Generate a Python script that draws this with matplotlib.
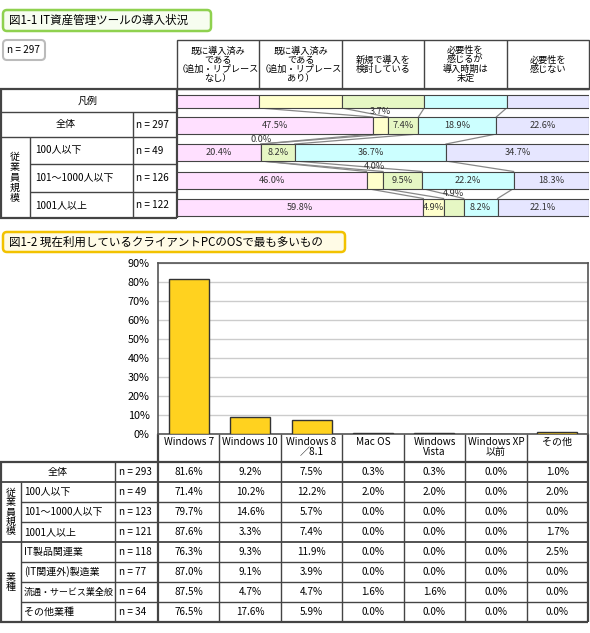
import matplotlib
matplotlib.use("Agg")
import matplotlib.pyplot as plt
import numpy as np
from matplotlib.patches import FancyBboxPatch

plt.rcParams['font.family'] = ['Noto Sans CJK JP', 'DejaVu Sans']

### 図1-1 data
tool_cols = ["既に導入済み\nである\n（追加・リプレース\nなし）",
             "既に導入済み\nである\n（追加・リプレース\nあり）",
             "新規で導入を\n検討している",
             "必要性を\n感じるが\n導入時期は\n未定",
             "必要性を\n感じない"]
tool_rows = ["全体", "100人以下", "101～1000人以下", "1001人以上"]
tool_n = [297, 49, 126, 122]
tool_vals = [[47.5, 3.7, 7.4, 18.9, 22.6],
             [20.4, 0.0, 8.2, 36.7, 34.7],
             [46.0, 4.0, 9.5, 22.2, 18.3],
             [59.8, 4.9, 4.9, 8.2, 22.1]]
tool_total_n = 297

### 図1-2 data
os_names = ["Windows 7", "Windows 10", "Windows 8\n／8.1", "Mac OS",
            "Windows\nVista", "Windows XP\n以前", "その他"]
os_rows = ["全体", "100人以下", "101～1000人以下", "1001人以上",
           "IT製品関連業", "(IT関連外)製造業", "流通・サービス業全般", "その他業種"]
os_n = [293, 49, 123, 121, 118, 77, 64, 34]
os_vals = [[81.6, 9.2, 7.5, 0.3, 0.3, 0.0, 1.0],
           [71.4, 10.2, 12.2, 2.0, 2.0, 0.0, 2.0],
           [79.7, 14.6, 5.7, 0.0, 0.0, 0.0, 0.0],
           [87.6, 3.3, 7.4, 0.0, 0.0, 0.0, 1.7],
           [76.3, 9.3, 11.9, 0.0, 0.0, 0.0, 2.5],
           [87.0, 9.1, 3.9, 0.0, 0.0, 0.0, 0.0],
           [87.5, 4.7, 4.7, 1.6, 1.6, 0.0, 0.0],
           [76.5, 17.6, 5.9, 0.0, 0.0, 0.0, 0.0]]

W, H = 590, 633
seg_colors = ["#ffe0ff", "#ffffcc", "#e6f7c4", "#ccffff", "#e6e6ff"]
bar_color = "#ffd21f"
line_c = "#444444"
fs = 7.2

fig = plt.figure(figsize=(W / 100, H / 100), dpi=100)
bg = fig.add_axes([0, 0, 1, 1])
bg.set_xlim(0, W)
bg.set_ylim(H, 0)
bg.axis('off')


def rect(x0, y0, x1, y1):
    return [x0 / W, 1 - y1 / H, (x1 - x0) / W, (y1 - y0) / H]


def hline(y, x0, x1, lw=1, c=line_c):
    bg.plot([x0, x1], [y, y], color=c, lw=lw, solid_capstyle='butt')


def vline(x, y0, y1, lw=1, c=line_c):
    bg.plot([x, x], [y0, y1], color=c, lw=lw, solid_capstyle='butt')


def rbox(x0, y0, x1, y1, ec, fc, lw=1.5):
    bg.add_patch(FancyBboxPatch((x0, y0), x1 - x0, y1 - y0,
                                boxstyle="round,pad=0,rounding_size=4",
                                ec=ec, fc=fc, lw=lw))


# ---------------- 図1-1 ----------------
rbox(3, 10, 211, 31, "#8fd14f", "#f7fdf0", lw=1.8)
bg.text(9, 20.5, "図1-1 IT資産管理ツールの導入状況", fontsize=8.3,
        va='center', ha='left')
rbox(3, 40, 45, 60, "#bbbbbb", "white", lw=1.5)
bg.text(7, 50, f"n = {tool_total_n}", fontsize=fs, va='center', ha='left')

# header
x_l, x_r = 177, 589
col_w = (x_r - x_l) / 5
bg.add_patch(plt.Rectangle((x_l, 40), x_r - x_l, 49, fill=False, ec=line_c, lw=1))
for i, lab in enumerate(tool_cols):
    if i > 0:
        vline(x_l + i * col_w, 40, 89)
    bg.text(x_l + (i + 0.5) * col_w, 64.5, lab, fontsize=6.6, ha='center',
            va='center', linespacing=1.0)

# left table
hline(89, 0, x_r, lw=1.6)
hline(112, 0, x_l)
row_lines = [112, 137, 164, 192, 218]
for y in row_lines[1:-1]:
    hline(y, 30 if y != 137 else 0, x_l)
hline(218, 0, x_l, lw=1.6)
vline(0.8, 89, 218, lw=1.6)
vline(x_l, 89, 218, lw=1.6)
vline(133, 112, 218)
vline(30, 137, 218)
bg.text(88, 100.5, "凡例", fontsize=fs, ha='center', va='center')
bg.text(15, 177.5, "従\n業\n員\n規\n模", fontsize=fs, ha='center', va='center',
        linespacing=1.05)
for i, (lab, n) in enumerate(zip(tool_rows, tool_n)):
    yc = (row_lines[i] + row_lines[i + 1]) / 2
    if i == 0:
        bg.text(66, yc, lab, fontsize=fs, ha='center', va='center')
    else:
        bg.text(35, yc, lab, fontsize=fs, ha='left', va='center')
    bg.text(136, yc, f"n = {n}", fontsize=fs, ha='left', va='center')

# stacked bars
ax1 = fig.add_axes(rect(x_l, 89, x_r, 218))
ax1.set_xlim(0, 100)
ax1.set_ylim(218, 89)
ax1.axis('off')
legend_y, legend_h = 101.5, 13
bar_y = [125.5, 152.5, 180, 207]
bar_h = 17
legend_vals = [20] * 5
left = 0
for k, v in enumerate(legend_vals):
    ax1.barh(legend_y, v, left=left, height=legend_h, color=seg_colors[k],
             edgecolor=line_c, lw=0.8)
    left += v
above = {(0, 1), (1, 1), (2, 1), (3, 2)}
cums = [np.cumsum([0] + legend_vals)]
for r, vals in enumerate(tool_vals):
    left = 0
    for k, v in enumerate(vals):
        ax1.barh(bar_y[r], v, left=left, height=bar_h, color=seg_colors[k],
                 edgecolor=line_c, lw=0.8)
        if (r, k) in above:
            ax1.text(left + v / 2, bar_y[r] - bar_h / 2 - 0.5, f"{v:.1f}%",
                     fontsize=6.6, ha='center', va='bottom', color="#333333")
        else:
            ax1.text(left + v / 2, bar_y[r], f"{v:.1f}%", fontsize=6.6,
                     ha='center', va='center', color="#333333")
        left += v
    cums.append(np.cumsum([0] + vals))
# connector lines between rows
tops = [legend_y - legend_h / 2] + [y - bar_h / 2 for y in bar_y]
bots = [legend_y + legend_h / 2] + [y + bar_h / 2 for y in bar_y]
for r in range(len(cums) - 1):
    for k in range(1, 5):
        ax1.plot([cums[r][k], cums[r + 1][k]], [bots[r], tops[r + 1]],
                 color="#888888", lw=0.9, zorder=0.5)

# ---------------- 図1-2 ----------------
rbox(3, 232, 345, 252, "#f2c200", "#fffbe6", lw=1.8)
bg.text(9, 242, "図1-2 現在利用しているクライアントPCのOSで最も多いもの",
        fontsize=8.3, va='center', ha='left')

cx0, cx1 = 158, 588
ax2 = fig.add_axes(rect(cx0, 263, cx1, 434))
x = np.arange(len(os_names))
ax2.bar(x, os_vals[0], width=0.65, color=bar_color, edgecolor="#333333",
        lw=1, zorder=3)
ax2.set_xlim(-0.5, len(os_names) - 0.5)
ax2.set_ylim(0, 90)
ax2.set_yticks(np.arange(0, 91, 10))
ax2.set_yticklabels([f"{t}%" for t in range(0, 91, 10)], fontsize=7.8)
ax2.set_xticks([])
ax2.tick_params(axis='y', length=0, pad=6)
ax2.grid(axis='y', color="#cccccc", lw=1, zorder=0)
for s in ax2.spines.values():
    s.set_color("#555555")
    s.set_linewidth(1.2)
rbox(536, 268, 580, 290, "#bbbbbb", "white", lw=1.5)
bg.text(558, 279, "n = 293", fontsize=fs, ha='center', va='center')

# OS table
tcol_w = (cx1 - cx0) / len(os_names)
top_h, row_h = 434, 20
t_top = 462
t_bot = t_top + row_h * len(os_rows)
for i, name in enumerate(os_names):
    bg.text(cx0 + (i + 0.5) * tcol_w, 437, name, fontsize=fs, ha='center',
            va='top', linespacing=1.05)
for i in range(len(os_names) + 1):
    lw = 1.6 if i in (0, len(os_names)) else 1
    vline(cx0 + i * tcol_w, top_h, t_bot, lw=lw)
hline(t_top, 0, cx1, lw=1.6)
hline(t_bot, 0, cx1, lw=1.6)
vline(0.8, t_top, t_bot, lw=1.6)
vline(115, t_top, t_bot)
vline(21, t_top + row_h, t_bot)
for r in range(1, len(os_rows)):
    y = t_top + r * row_h
    hline(y, 0 if r in (1, 4) else 21, cx1, lw=1.3 if r in (1, 4) else 1)
bg.text(10.5, t_top + row_h * 2.5, "従\n業\n員\n規\n模", fontsize=fs,
        ha='center', va='center', linespacing=0.95)
bg.text(10.5, t_top + row_h * 6, "業\n種", fontsize=fs, ha='center',
        va='center', linespacing=1.1)
for r, (lab, n, vals) in enumerate(zip(os_rows, os_n, os_vals)):
    yc = t_top + (r + 0.5) * row_h
    if r == 0:
        bg.text(58, yc, lab, fontsize=fs, ha='center', va='center')
    else:
        lab_fs = 6.5 if lab.startswith("流通") else fs
        bg.text(24, yc, lab, fontsize=lab_fs, ha='left', va='center')
    bg.text(119, yc, f"n = {n}", fontsize=fs, ha='left', va='center')
    for i, v in enumerate(vals):
        bg.text(cx0 + (i + 0.5) * tcol_w, yc, f"{v:.1f}%", fontsize=fs,
                ha='center', va='center')

fig.savefig("out.png", dpi=100)
